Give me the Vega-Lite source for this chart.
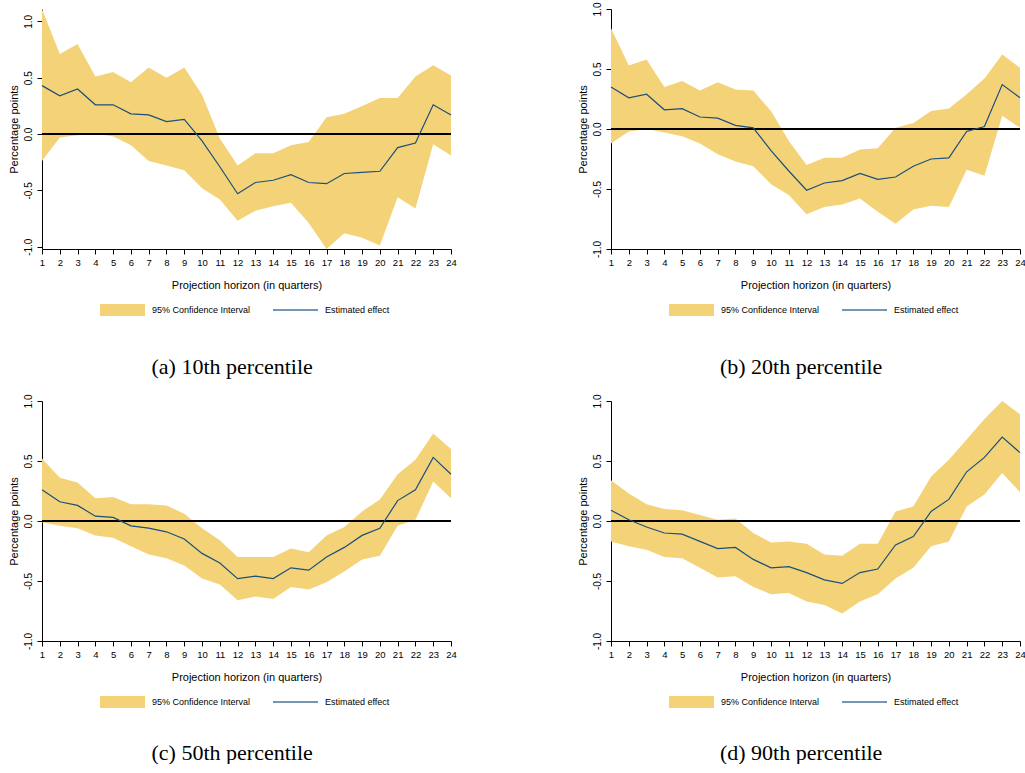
{
  "$schema": "https://vega.github.io/schema/vega-lite/v6.json",
  "background": "white",
  "padding": {"left": 8, "top": 2, "right": 0, "bottom": 0},
  "datasets": {
    "a": [
      {"h": 1, "est": 0.43, "lo": -0.24, "hi": 1.11},
      {"h": 2, "est": 0.34, "lo": -0.03, "hi": 0.71},
      {"h": 3, "est": 0.40, "lo": -0.01, "hi": 0.80},
      {"h": 4, "est": 0.26, "lo": 0.00, "hi": 0.51},
      {"h": 5, "est": 0.26, "lo": -0.02, "hi": 0.55},
      {"h": 6, "est": 0.18, "lo": -0.10, "hi": 0.46},
      {"h": 7, "est": 0.17, "lo": -0.24, "hi": 0.59},
      {"h": 8, "est": 0.11, "lo": -0.28, "hi": 0.50},
      {"h": 9, "est": 0.13, "lo": -0.32, "hi": 0.59},
      {"h": 10, "est": -0.06, "lo": -0.48, "hi": 0.35},
      {"h": 11, "est": -0.29, "lo": -0.58, "hi": -0.04},
      {"h": 12, "est": -0.53, "lo": -0.77, "hi": -0.28},
      {"h": 13, "est": -0.43, "lo": -0.68, "hi": -0.17},
      {"h": 14, "est": -0.41, "lo": -0.64, "hi": -0.17},
      {"h": 15, "est": -0.36, "lo": -0.61, "hi": -0.10},
      {"h": 16, "est": -0.43, "lo": -0.79, "hi": -0.07},
      {"h": 17, "est": -0.44, "lo": -1.02, "hi": 0.15},
      {"h": 18, "est": -0.35, "lo": -0.88, "hi": 0.18},
      {"h": 19, "est": -0.34, "lo": -0.92, "hi": 0.25},
      {"h": 20, "est": -0.33, "lo": -0.99, "hi": 0.32},
      {"h": 21, "est": -0.12, "lo": -0.56, "hi": 0.32},
      {"h": 22, "est": -0.08, "lo": -0.66, "hi": 0.51},
      {"h": 23, "est": 0.26, "lo": -0.09, "hi": 0.61},
      {"h": 24, "est": 0.17, "lo": -0.19, "hi": 0.52}
    ],
    "b": [
      {"h": 1, "est": 0.35, "lo": -0.12, "hi": 0.84},
      {"h": 2, "est": 0.26, "lo": -0.02, "hi": 0.53},
      {"h": 3, "est": 0.29, "lo": 0.00, "hi": 0.58},
      {"h": 4, "est": 0.16, "lo": -0.03, "hi": 0.35},
      {"h": 5, "est": 0.17, "lo": -0.06, "hi": 0.40},
      {"h": 6, "est": 0.10, "lo": -0.12, "hi": 0.32},
      {"h": 7, "est": 0.09, "lo": -0.21, "hi": 0.39},
      {"h": 8, "est": 0.03, "lo": -0.27, "hi": 0.33},
      {"h": 9, "est": 0.01, "lo": -0.31, "hi": 0.32},
      {"h": 10, "est": -0.18, "lo": -0.46, "hi": 0.15},
      {"h": 11, "est": -0.35, "lo": -0.55, "hi": -0.10},
      {"h": 12, "est": -0.51, "lo": -0.71, "hi": -0.30},
      {"h": 13, "est": -0.45, "lo": -0.65, "hi": -0.24},
      {"h": 14, "est": -0.43, "lo": -0.63, "hi": -0.24},
      {"h": 15, "est": -0.37, "lo": -0.58, "hi": -0.17},
      {"h": 16, "est": -0.42, "lo": -0.69, "hi": -0.16},
      {"h": 17, "est": -0.40, "lo": -0.79, "hi": 0.01},
      {"h": 18, "est": -0.31, "lo": -0.67, "hi": 0.05},
      {"h": 19, "est": -0.25, "lo": -0.64, "hi": 0.15},
      {"h": 20, "est": -0.24, "lo": -0.65, "hi": 0.17},
      {"h": 21, "est": -0.02, "lo": -0.34, "hi": 0.29},
      {"h": 22, "est": 0.02, "lo": -0.39, "hi": 0.42},
      {"h": 23, "est": 0.37, "lo": 0.11, "hi": 0.62},
      {"h": 24, "est": 0.26, "lo": 0.01, "hi": 0.51}
    ],
    "c": [
      {"h": 1, "est": 0.26, "lo": -0.01, "hi": 0.52},
      {"h": 2, "est": 0.16, "lo": -0.04, "hi": 0.36},
      {"h": 3, "est": 0.13, "lo": -0.06, "hi": 0.32},
      {"h": 4, "est": 0.04, "lo": -0.12, "hi": 0.19},
      {"h": 5, "est": 0.03, "lo": -0.14, "hi": 0.20},
      {"h": 6, "est": -0.04, "lo": -0.21, "hi": 0.14},
      {"h": 7, "est": -0.06, "lo": -0.28, "hi": 0.14},
      {"h": 8, "est": -0.09, "lo": -0.31, "hi": 0.13},
      {"h": 9, "est": -0.15, "lo": -0.37, "hi": 0.06},
      {"h": 10, "est": -0.27, "lo": -0.48, "hi": -0.06},
      {"h": 11, "est": -0.35, "lo": -0.53, "hi": -0.16},
      {"h": 12, "est": -0.48, "lo": -0.66, "hi": -0.30},
      {"h": 13, "est": -0.46, "lo": -0.63, "hi": -0.30},
      {"h": 14, "est": -0.48, "lo": -0.65, "hi": -0.30},
      {"h": 15, "est": -0.39, "lo": -0.55, "hi": -0.23},
      {"h": 16, "est": -0.41, "lo": -0.57, "hi": -0.26},
      {"h": 17, "est": -0.30, "lo": -0.51, "hi": -0.12},
      {"h": 18, "est": -0.22, "lo": -0.42, "hi": -0.05},
      {"h": 19, "est": -0.12, "lo": -0.32, "hi": 0.08},
      {"h": 20, "est": -0.06, "lo": -0.29, "hi": 0.18},
      {"h": 21, "est": 0.17, "lo": -0.04, "hi": 0.39},
      {"h": 22, "est": 0.26, "lo": 0.01, "hi": 0.51},
      {"h": 23, "est": 0.53, "lo": 0.33, "hi": 0.73},
      {"h": 24, "est": 0.39, "lo": 0.19, "hi": 0.60}
    ],
    "d": [
      {"h": 1, "est": 0.09, "lo": -0.17, "hi": 0.34},
      {"h": 2, "est": 0.01, "lo": -0.21, "hi": 0.23},
      {"h": 3, "est": -0.05, "lo": -0.24, "hi": 0.14},
      {"h": 4, "est": -0.10, "lo": -0.30, "hi": 0.10},
      {"h": 5, "est": -0.11, "lo": -0.31, "hi": 0.09},
      {"h": 6, "est": -0.17, "lo": -0.39, "hi": 0.05},
      {"h": 7, "est": -0.23, "lo": -0.47, "hi": 0.01},
      {"h": 8, "est": -0.22, "lo": -0.46, "hi": 0.02},
      {"h": 9, "est": -0.32, "lo": -0.55, "hi": -0.10},
      {"h": 10, "est": -0.39, "lo": -0.61, "hi": -0.18},
      {"h": 11, "est": -0.38, "lo": -0.60, "hi": -0.17},
      {"h": 12, "est": -0.43, "lo": -0.67, "hi": -0.19},
      {"h": 13, "est": -0.49, "lo": -0.70, "hi": -0.28},
      {"h": 14, "est": -0.52, "lo": -0.77, "hi": -0.29},
      {"h": 15, "est": -0.43, "lo": -0.67, "hi": -0.19},
      {"h": 16, "est": -0.40, "lo": -0.61, "hi": -0.19},
      {"h": 17, "est": -0.20, "lo": -0.48, "hi": 0.08},
      {"h": 18, "est": -0.13, "lo": -0.39, "hi": 0.12},
      {"h": 19, "est": 0.08, "lo": -0.21, "hi": 0.37},
      {"h": 20, "est": 0.18, "lo": -0.17, "hi": 0.51},
      {"h": 21, "est": 0.41, "lo": 0.12, "hi": 0.68},
      {"h": 22, "est": 0.53, "lo": 0.22, "hi": 0.85},
      {"h": 23, "est": 0.70, "lo": 0.40, "hi": 1.00},
      {"h": 24, "est": 0.57, "lo": 0.24, "hi": 0.89}
    ]
  },
  "config": {
    "view": {"stroke": null},
    "font": "Liberation Sans",
    "axis": {
      "grid": false,
      "domainColor": "black",
      "tickColor": "black",
      "labelColor": "black",
      "titleColor": "black",
      "labelFont": "Liberation Sans",
      "titleFont": "Liberation Sans",
      "labelFontSize": 10,
      "titleFontSize": 11,
      "titleFontWeight": "normal",
      "tickSize": 5
    },
    "axisX": {"labelOverlap": false, "labelFlush": false, "labelFontSize": 9.5, "labelPadding": 3, "titlePadding": 13},
    "legend": {
      "labelFont": "Liberation Sans",
      "labelFontSize": 9,
      "labelColor": "black",
      "orient": "none",
      "direction": "horizontal",
      "title": null,
      "symbolSize": 144,
      "labelOffset": 22.5,
      "legendY": 294
    },
    "title": {
      "font": "Liberation Serif",
      "fontSize": 22,
      "fontWeight": "normal",
      "color": "black"
    }
  },
  "columns": 2,
  "spacing": {"row": 16, "column": 120},
  "resolve": {"scale": {"fill": "independent", "stroke": "independent"}},
  "concat": [
    {
      "width": 409, "height": 240,
      "data": {"name": "a"},
      "title": {"text": "(a) 10th percentile", "orient": "bottom", "anchor": "middle", "frame": "bounds", "offset": 41},
      "layer": [
        {
          "mark": {"type": "area", "opacity": 1},
          "encoding": {
            "x": {"field": "h", "type": "quantitative", "scale": {"domain": [1, 24], "nice": false, "zero": false},
                  "axis": {"values": [1,2,3,4,5,6,7,8,9,10,11,12,13,14,15,16,17,18,19,20,21,22,23,24], "tickCount": 30, "format": "d", "labelOverlap": false, "labelFlush": false, "title": "Projection horizon (in quarters)"}},
            "y": {"field": "lo", "type": "quantitative", "scale": {"domain": [-1.02, 1.11], "nice": false, "zero": false},
                  "axis": {"values": [-1, -0.5, 0, 0.5, 1], "tickCount": 10, "labelExpr": "datum.value < 0 ? '-' + format(-datum.value, '.1f') : format(datum.value, '.1f')", "labelAngle": -90, "labelAlign": "center", "labelBaseline": "bottom", "labelPadding": 4, "labelOverlap": false, "title": "Percentage points", "titlePadding": 4}},
            "y2": {"field": "hi"},
            "fill": {"datum": "95% Confidence Interval", "type": "nominal",
                     "scale": {"domain": ["95% Confidence Interval"], "range": ["#F4D378"]},
                     "legend": {"symbolType": "M-3.75,-1H3.75V1H-3.75Z", "legendX": 73.5, "symbolOpacity": 1}}
          }
        },
        {"mark": {"type": "rule", "color": "black", "strokeWidth": 1}, "encoding": {"y": {"datum": 0}}},
        {
          "mark": {"type": "line", "strokeWidth": 1.2},
          "encoding": {
            "x": {"field": "h", "type": "quantitative"},
            "y": {"field": "est", "type": "quantitative"},
            "stroke": {"datum": "Estimated effect", "type": "nominal",
                       "scale": {"domain": ["Estimated effect"], "range": ["#1B4F7C"]},
                       "legend": {"symbolType": "M-3.75,0H3.75", "legendX": 246.5, "symbolStrokeWidth": 1.5, "symbolOpacity": 0.8}}
          }
        }
      ]
    },
    {
      "width": 409, "height": 240,
      "data": {"name": "b"},
      "title": {"text": "(b) 20th percentile", "orient": "bottom", "anchor": "middle", "frame": "bounds", "offset": 41},
      "layer": [
        {
          "mark": {"type": "area", "opacity": 1},
          "encoding": {
            "x": {"field": "h", "type": "quantitative", "scale": {"domain": [1, 24], "nice": false, "zero": false},
                  "axis": {"values": [1,2,3,4,5,6,7,8,9,10,11,12,13,14,15,16,17,18,19,20,21,22,23,24], "tickCount": 30, "format": "d", "labelOverlap": false, "labelFlush": false, "title": "Projection horizon (in quarters)"}},
            "y": {"field": "lo", "type": "quantitative", "scale": {"domain": [-1, 1], "nice": false, "zero": false},
                  "axis": {"values": [-1, -0.5, 0, 0.5, 1], "tickCount": 10, "labelExpr": "datum.value < 0 ? '-' + format(-datum.value, '.1f') : format(datum.value, '.1f')", "labelAngle": -90, "labelAlign": "center", "labelBaseline": "bottom", "labelPadding": 4, "labelOverlap": false, "title": "Percentage points", "titlePadding": 4}},
            "y2": {"field": "hi"},
            "fill": {"datum": "95% Confidence Interval", "type": "nominal",
                     "scale": {"domain": ["95% Confidence Interval"], "range": ["#F4D378"]},
                     "legend": {"symbolType": "M-3.75,-1H3.75V1H-3.75Z", "legendX": 73.5, "symbolOpacity": 1}}
          }
        },
        {"mark": {"type": "rule", "color": "black", "strokeWidth": 1}, "encoding": {"y": {"datum": 0}}},
        {
          "mark": {"type": "line", "strokeWidth": 1.2},
          "encoding": {
            "x": {"field": "h", "type": "quantitative"},
            "y": {"field": "est", "type": "quantitative"},
            "stroke": {"datum": "Estimated effect", "type": "nominal",
                       "scale": {"domain": ["Estimated effect"], "range": ["#1B4F7C"]},
                       "legend": {"symbolType": "M-3.75,0H3.75", "legendX": 246.5, "symbolStrokeWidth": 1.5, "symbolOpacity": 0.8}}
          }
        }
      ]
    },
    {
      "width": 409, "height": 240,
      "data": {"name": "c"},
      "title": {"text": "(c) 50th percentile", "orient": "bottom", "anchor": "middle", "frame": "bounds", "offset": 35},
      "layer": [
        {
          "mark": {"type": "area", "opacity": 1},
          "encoding": {
            "x": {"field": "h", "type": "quantitative", "scale": {"domain": [1, 24], "nice": false, "zero": false},
                  "axis": {"values": [1,2,3,4,5,6,7,8,9,10,11,12,13,14,15,16,17,18,19,20,21,22,23,24], "tickCount": 30, "format": "d", "labelOverlap": false, "labelFlush": false, "title": "Projection horizon (in quarters)"}},
            "y": {"field": "lo", "type": "quantitative", "scale": {"domain": [-1, 1], "nice": false, "zero": false},
                  "axis": {"values": [-1, -0.5, 0, 0.5, 1], "tickCount": 10, "labelExpr": "datum.value < 0 ? '-' + format(-datum.value, '.1f') : format(datum.value, '.1f')", "labelAngle": -90, "labelAlign": "center", "labelBaseline": "bottom", "labelPadding": 4, "labelOverlap": false, "title": "Percentage points", "titlePadding": 4}},
            "y2": {"field": "hi"},
            "fill": {"datum": "95% Confidence Interval", "type": "nominal",
                     "scale": {"domain": ["95% Confidence Interval"], "range": ["#F4D378"]},
                     "legend": {"symbolType": "M-3.75,-1H3.75V1H-3.75Z", "legendX": 73.5, "symbolOpacity": 1}}
          }
        },
        {"mark": {"type": "rule", "color": "black", "strokeWidth": 1}, "encoding": {"y": {"datum": 0}}},
        {
          "mark": {"type": "line", "strokeWidth": 1.2},
          "encoding": {
            "x": {"field": "h", "type": "quantitative"},
            "y": {"field": "est", "type": "quantitative"},
            "stroke": {"datum": "Estimated effect", "type": "nominal",
                       "scale": {"domain": ["Estimated effect"], "range": ["#1B4F7C"]},
                       "legend": {"symbolType": "M-3.75,0H3.75", "legendX": 246.5, "symbolStrokeWidth": 1.5, "symbolOpacity": 0.8}}
          }
        }
      ]
    },
    {
      "width": 409, "height": 240,
      "data": {"name": "d"},
      "title": {"text": "(d) 90th percentile", "orient": "bottom", "anchor": "middle", "frame": "bounds", "offset": 35},
      "layer": [
        {
          "mark": {"type": "area", "opacity": 1},
          "encoding": {
            "x": {"field": "h", "type": "quantitative", "scale": {"domain": [1, 24], "nice": false, "zero": false},
                  "axis": {"values": [1,2,3,4,5,6,7,8,9,10,11,12,13,14,15,16,17,18,19,20,21,22,23,24], "tickCount": 30, "format": "d", "labelOverlap": false, "labelFlush": false, "title": "Projection horizon (in quarters)"}},
            "y": {"field": "lo", "type": "quantitative", "scale": {"domain": [-1, 1], "nice": false, "zero": false},
                  "axis": {"values": [-1, -0.5, 0, 0.5, 1], "tickCount": 10, "labelExpr": "datum.value < 0 ? '-' + format(-datum.value, '.1f') : format(datum.value, '.1f')", "labelAngle": -90, "labelAlign": "center", "labelBaseline": "bottom", "labelPadding": 4, "labelOverlap": false, "title": "Percentage points", "titlePadding": 4}},
            "y2": {"field": "hi"},
            "fill": {"datum": "95% Confidence Interval", "type": "nominal",
                     "scale": {"domain": ["95% Confidence Interval"], "range": ["#F4D378"]},
                     "legend": {"symbolType": "M-3.75,-1H3.75V1H-3.75Z", "legendX": 73.5, "symbolOpacity": 1}}
          }
        },
        {"mark": {"type": "rule", "color": "black", "strokeWidth": 1}, "encoding": {"y": {"datum": 0}}},
        {
          "mark": {"type": "line", "strokeWidth": 1.2},
          "encoding": {
            "x": {"field": "h", "type": "quantitative"},
            "y": {"field": "est", "type": "quantitative"},
            "stroke": {"datum": "Estimated effect", "type": "nominal",
                       "scale": {"domain": ["Estimated effect"], "range": ["#1B4F7C"]},
                       "legend": {"symbolType": "M-3.75,0H3.75", "legendX": 246.5, "symbolStrokeWidth": 1.5, "symbolOpacity": 0.8}}
          }
        }
      ]
    }
  ]
}
